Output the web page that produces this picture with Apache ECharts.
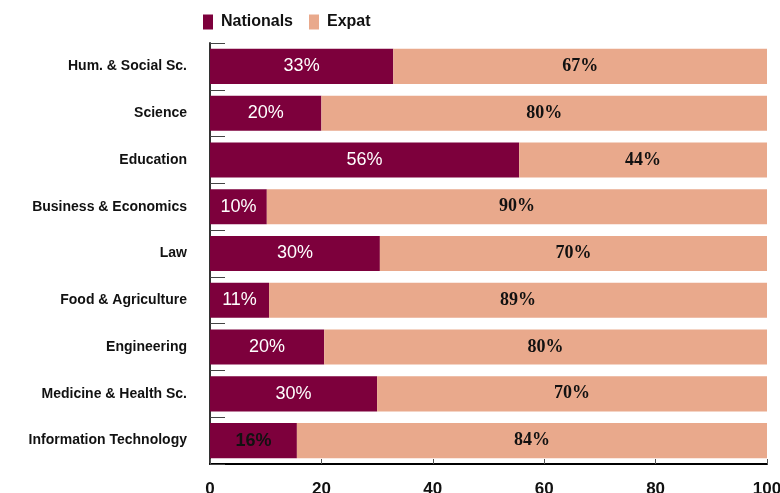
<!DOCTYPE html>
<html><head><meta charset="utf-8">
<script src="https://cdn.jsdelivr.net/npm/echarts@6/dist/echarts.min.js"></script>
<style>html,body{margin:0;padding:0;background:#fff}#c{width:780px;height:493px}</style>
</head><body><div id="c"></div>
<script>
const categories = ["Hum. & Social Sc.","Science","Education","Business & Economics","Law","Food & Agriculture","Engineering","Medicine & Health Sc.","Information Technology"];
const nationals = [32.9, 20.0, 55.5, 10.2, 30.5, 10.6, 20.5, 30.0, 15.6];
const expat = [67.1, 80.0, 44.5, 89.8, 69.5, 89.4, 79.5, 70.0, 84.4];
const nationalsLabels = ["33%","20%","56%","10%","30%","11%","20%","30%","16%"];
const expatLabels = ["67%","80%","44%","90%","70%","89%","80%","70%","84%"];
const xTicks = [0,20,40,60,80,100];

const chart = echarts.init(document.getElementById('c'), null, {renderer:'canvas'});
const natData = nationals.map((v,i)=>({
  value:v,
  label: i===8 ? {color:'#111', fontWeight:'bold'} : {}
}));
chart.setOption({
  animation:false,
  legend:{
    left:198, top:9, itemWidth:10, itemHeight:15, itemGap:16,
    textStyle:{fontFamily:"'Liberation Sans Narrow','Liberation Sans',Arial,sans-serif", fontWeight:'bold', fontSize:16, color:'#111', padding:[0,0,0,3]},
    data:[{name:'Nationals',icon:'rect'},{name:'Expat',icon:'rect'}]
  },
  grid:{left:210, right:13, top:43, bottom:29, containLabel:false, outerBoundsMode:'none'},
  xAxis:{
    type:'value', min:0, max:100, interval:20,
    axisLine:{show:true, lineStyle:{color:'#000', width:2}},
    axisTick:{show:true, inside:true, length:5, lineStyle:{color:'#555'}},
    splitLine:{show:false},
    axisLabel:{fontFamily:"'Liberation Sans',Arial,sans-serif", fontWeight:'bold', fontSize:17, color:'#111', margin:17,
      formatter:v=> xTicks.includes(v)? String(v):''}
  },
  yAxis:{
    type:'category', data:categories, inverse:true,
    axisLine:{show:true, lineStyle:{color:'#333', width:2}},
    axisTick:{show:true, inside:true, length:15, lineStyle:{color:'#444', width:1}},
    axisLabel:{fontFamily:"'Liberation Sans',Arial,sans-serif", fontWeight:'bold', fontSize:14, color:'#111', margin:23}
  },
  series:[
    {name:'Nationals', type:'bar', stack:'t', data:natData, barCategoryGap:'25%',
     itemStyle:{color:'#7d003c'},
     label:{show:true, position:'inside', fontFamily:"'Liberation Sans',Arial,sans-serif", fontSize:18, color:'#fff',
       formatter:p=>nationalsLabels[p.dataIndex]}},
    {name:'Expat', type:'bar', stack:'t', data:expat, barCategoryGap:'25%',
     itemStyle:{color:'#e9a98c'},
     label:{show:true, position:'inside', fontFamily:"'Liberation Serif','Times New Roman',serif", fontWeight:'bold', fontSize:18, color:'#111',
       formatter:p=>expatLabels[p.dataIndex]}}
  ]
});
</script></body></html>
